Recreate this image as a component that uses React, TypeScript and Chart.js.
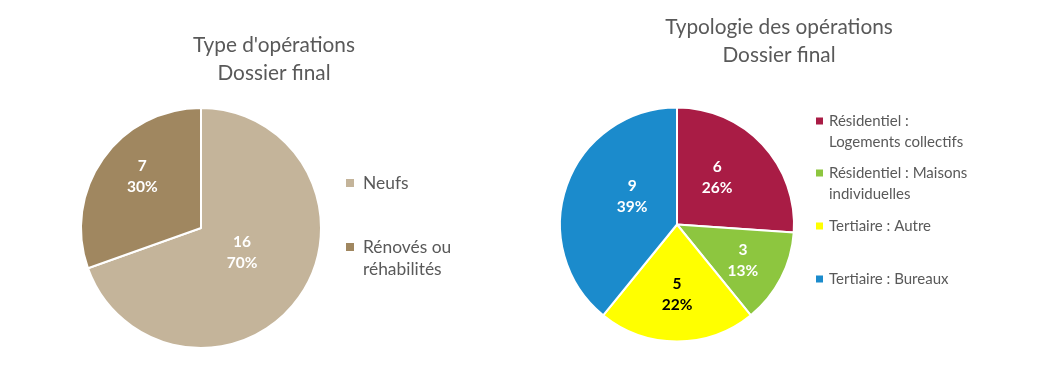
import React, { useEffect, useRef } from "react";
import { Chart, registerables } from "chart.js";

Chart.register(...registerables);

// ---------- Data ----------
const typeLabels = ["Neufs", "Rénovés ou réhabilités"];
const typeLegendLines = [["Neufs"], ["Rénovés ou", "réhabilités"]];
const typeValues = [16, 7];
const typeColors = ["#C4B49A", "#A08760"];
const typeTitle = ["Type d'opérations", "Dossier final"];

const typoLabels = [
  "Résidentiel : Logements collectifs",
  "Résidentiel : Maisons individuelles",
  "Tertiaire : Autre",
  "Tertiaire : Bureaux",
];
const typoLegendLines = [
  ["Résidentiel :", "Logements collectifs"],
  ["Résidentiel : Maisons", "individuelles"],
  ["Tertiaire : Autre"],
  ["Tertiaire : Bureaux"],
];
const typoValues = [6, 3, 5, 9];
const typoColors = ["#A91C45", "#8DC63F", "#FFFF00", "#1B8BCC"];
const typoTitle = ["Typologie des opérations", "Dossier final"];

const FONT = "Lato, 'Open Sans', sans-serif";
const GREY = "#595959";

type Extras = {
  title: string[];
  titleX: number;
  titleY: number;
  titleGap: number;
  titleSize: number;
  legend: string[][];
  legendX: number;
  legendYs: number[];
  legendLine: number;
  legendSize: number;
  square: number;
  textGap: number;
  labelPos: [number, number][]; // [radial factor, angle offset deg]
  labelColors: string[];
  labelSize: number;
};

const extrasPlugin = {
  id: "extras",
  afterDraw(chart: any, _args: any, opts: Extras) {
    const ctx = chart.ctx as CanvasRenderingContext2D;
    ctx.save();
    // title
    ctx.fillStyle = GREY;
    ctx.textAlign = "center";
    ctx.textBaseline = "middle";
    ctx.font = `${opts.titleSize}px ${FONT}`;
    opts.title.forEach((t, i) => ctx.fillText(t, opts.titleX, opts.titleY + i * opts.titleGap));
    // legend
    const colors = chart.data.datasets[0].backgroundColor as string[];
    ctx.textAlign = "left";
    ctx.font = `${opts.legendSize}px ${FONT}`;
    opts.legend.forEach((lines, i) => {
      const y0 = opts.legendYs[i];
      ctx.fillStyle = colors[i];
      ctx.fillRect(opts.legendX, y0 - opts.square / 2, opts.square, opts.square);
      ctx.fillStyle = GREY;
      lines.forEach((l, j) =>
        ctx.fillText(l, opts.legendX + opts.square + opts.textGap, y0 + j * opts.legendLine)
      );
    });
    // data labels
    const meta = chart.getDatasetMeta(0);
    const data = chart.data.datasets[0].data as number[];
    const total = data.reduce((a, b) => a + b, 0);
    ctx.textAlign = "center";
    ctx.font = `bold ${opts.labelSize}px ${FONT}`;
    meta.data.forEach((arc: any, i: number) => {
      const p = arc.getProps(["x", "y", "startAngle", "endAngle", "outerRadius"], true);
      const [f, off] = opts.labelPos[i];
      const a = (p.startAngle + p.endAngle) / 2 + (off * Math.PI) / 180;
      const cx = p.x + Math.cos(a) * p.outerRadius * f;
      const cy = p.y + Math.sin(a) * p.outerRadius * f;
      ctx.fillStyle = opts.labelColors[i];
      ctx.fillText(String(data[i]), cx, cy - 10.5);
      ctx.fillText(Math.round((data[i] / total) * 100) + "%", cx, cy + 10.5);
    });
    ctx.restore();
  },
};

function makeChart(
  canvas: HTMLCanvasElement,
  labels: string[],
  values: number[],
  colors: string[],
  padding: { left: number; right: number; top: number; bottom: number },
  extras: Extras
) {
  return new Chart(canvas, {
    type: "pie",
    data: {
      labels,
      datasets: [
        {
          data: values,
          backgroundColor: colors,
          borderColor: "#FFFFFF",
          borderWidth: 2,
        },
      ],
    },
    options: {
      responsive: false,
      animation: false,
      layout: { padding },
      plugins: {
        legend: { display: false },
        tooltip: { enabled: false },
        title: { display: false },
        extras: extras as any,
      } as any,
    },
    plugins: [extrasPlugin],
  });
}

export default function App() {
  const leftRef = useRef<HTMLCanvasElement>(null);
  const rightRef = useRef<HTMLCanvasElement>(null);

  useEffect(() => {
    document.body.style.margin = "0";
    document.body.style.background = "#FFFFFF";
    const c1 = makeChart(
      leftRef.current!,
      typeLabels,
      typeValues,
      typeColors,
      { left: 80, right: 736, top: 107, bottom: 39 },
      {
        title: typeTitle,
        titleX: 274,
        titleY: 45,
        titleGap: 28,
        titleSize: 20.8,
        legend: typeLegendLines,
        legendX: 346,
        legendYs: [183, 247],
        legendLine: 22,
        legendSize: 17.4,
        square: 8,
        textGap: 9,
        labelPos: [
          [0.4, -4],
          [0.65, 6],
        ],
        labelColors: ["#FFFFFF", "#FFFFFF"],
        labelSize: 15.5,
      }
    );
    const c2 = makeChart(
      rightRef.current!,
      typoLabels,
      typoValues,
      typoColors,
      { left: 559, right: 263, top: 106, bottom: 45 },
      {
        title: typoTitle,
        titleX: 779,
        titleY: 27,
        titleGap: 28,
        titleSize: 20.8,
        legend: typoLegendLines,
        legendX: 816,
        legendYs: [121, 173, 226, 279],
        legendLine: 21,
        legendSize: 15,
        square: 7,
        textGap: 6,
        labelPos: [
          [0.53, -6.6],
          [0.64, 1],
          [0.6, 0],
          [0.45, 12],
        ],
        labelColors: ["#FFFFFF", "#FFFFFF", "#000000", "#FFFFFF"],
        labelSize: 15.5,
      }
    );
    return () => {
      c1.destroy();
      c2.destroy();
    };
  }, []);

  const style: React.CSSProperties = { position: "absolute", left: 0, top: 0 };
  return (
    <div style={{ position: "relative", width: 1058, height: 388, background: "#FFFFFF" }}>
      <canvas ref={leftRef} width={1058} height={388} style={style} />
      <canvas ref={rightRef} width={1058} height={388} style={style} />
    </div>
  );
}
